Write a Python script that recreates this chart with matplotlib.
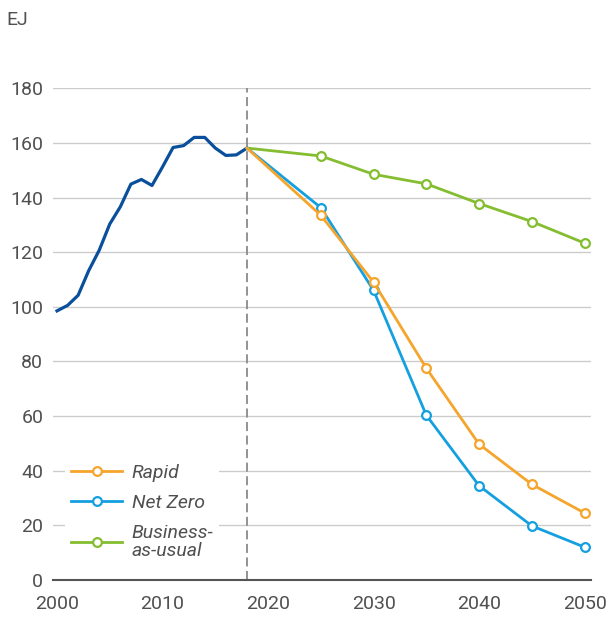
import matplotlib
matplotlib.use("Agg")
import matplotlib.pyplot as plt

hist_years = list(range(2000, 2019))
hist_values = [98.5, 100.5, 104.2, 113.2, 120.7, 130.3, 136.6, 144.9, 146.6, 144.4,
               151.2, 158.3, 159.0, 162.0, 162.0, 158.1, 155.4, 155.6, 158.1]

scen_years = [2018, 2025, 2030, 2035, 2040, 2045, 2050]
rapid = [158.1, 133.5, 109.0, 77.5, 49.7, 35.0, 24.5]
net_zero = [158.1, 136.3, 106.0, 60.3, 34.5, 19.8, 12.0]
bau = [158.1, 155.2, 148.5, 145.0, 137.8, 131.2, 123.3]

x_ticks = [2000, 2010, 2020, 2030, 2040, 2050]
y_ticks = [0, 20, 40, 60, 80, 100, 120, 140, 160, 180]

plt.rcParams["font.family"] = ["Roboto", "DejaVu Sans"]

text_col = "#505050"
fig = plt.figure(figsize=(6.12, 6.17), dpi=100)
ax = fig.add_axes([0.0866, 0.06, 0.879, 0.797])

for t in y_ticks[1:]:
    ax.axhline(t, color="#cccccc", lw=1.0, zorder=0)
ax.axvline(2018, color="#8a8a8a", lw=1.3, ls=(0, (5, 2.5)), zorder=1)

ax.plot(hist_years, hist_values, color="#0a4f9c", lw=2.3, zorder=3, solid_joinstyle="round")

mk = dict(marker="o", markersize=6.3, markerfacecolor="white", markeredgewidth=1.6, lw=2.0,
          clip_on=False, zorder=4, markevery=list(range(1, 7)))
ax.plot(scen_years, bau, color="#84bd2f", label="Business-\nas-usual", **mk)
ax.plot(scen_years, net_zero, color="#14a0e0", label="Net Zero", **mk)
ax.plot(scen_years, rapid, color="#f5a42c", label="Rapid", **mk)

ax.set_xlim(1999.62, 2050.6)
ax.set_ylim(0, 180)
ax.set_xticks(x_ticks)
ax.set_yticks(y_ticks)
ax.tick_params(length=0, labelsize=14, colors=text_col)
ax.tick_params(axis="y", pad=7)
ax.tick_params(axis="x", pad=11)
for s in ["top", "right", "left"]:
    ax.spines[s].set_visible(False)
ax.spines["bottom"].set_color("#555555")
ax.spines["bottom"].set_linewidth(1.5)

fig.text(0.01, 0.968, "EJ", fontsize=14, color=text_col, va="center", ha="left")

handles, labels = ax.get_legend_handles_labels()
order = [2, 1, 0]
leg = ax.legend([handles[i] for i in order], [labels[i] for i in order],
                loc="lower left", bbox_to_anchor=(0.005, 0.008), frameon=True,
                facecolor="white", edgecolor="none", framealpha=1, fancybox=False,
                handlelength=2.6, handletextpad=0.5, labelspacing=0.62,
                prop={"style": "italic", "size": 14}, borderpad=0.3)
for t in leg.get_texts():
    t.set_color(text_col)
    t.set_linespacing(1.05)

fig.savefig("out.png", dpi=100)
